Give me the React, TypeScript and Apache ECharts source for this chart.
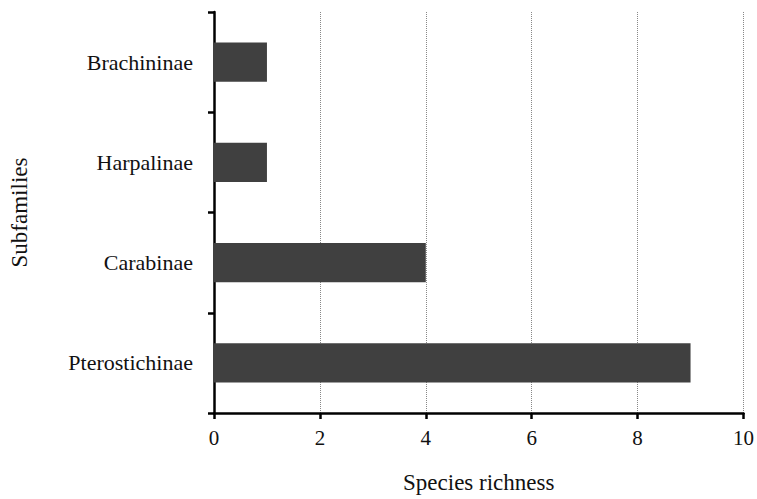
import React, { useEffect, useRef } from "react";
import * as echarts from "echarts";

const categories = ["Pterostichinae", "Carabinae", "Harpalinae", "Brachininae"];
const speciesRichness = [9, 4, 1, 1];
const xTicks = [0, 2, 4, 6, 8, 10];

export default function App() {
  const ref = useRef<HTMLDivElement>(null);
  useEffect(() => {
    if (!ref.current) return;
    const chart = echarts.init(ref.current, null, { renderer: "svg" });
    const font = "'Liberation Serif', 'Times New Roman', serif";
    chart.setOption({
      animation: false,
      backgroundColor: "#ffffff",
      grid: { left: 213, right: 11, top: 12, bottom: 79, containLabel: false },
      xAxis: {
        type: "value",
        min: xTicks[0],
        max: xTicks[xTicks.length - 1],
        interval: 2,
        name: "Species richness",
        nameLocation: "middle",
        nameGap: 58,
        nameTextStyle: { fontFamily: font, fontSize: 23, color: "#111" },
        axisLine: { show: true, lineStyle: { color: "#000", width: 2.5 } },
        axisTick: { show: true, length: 6, lineStyle: { color: "#000", width: 2.5 } },
        axisLabel: { fontFamily: font, fontSize: 21, color: "#111", margin: 14 },
        splitLine: { show: true, lineStyle: { color: "#888", type: [1, 1], width: 1 } },
      },
      yAxis: {
        type: "category",
        data: categories,
        name: "Subfamilies",
        nameLocation: "middle",
        nameGap: 183,
        nameRotate: 90,
        nameTextStyle: { fontFamily: font, fontSize: 23, color: "#111" },
        axisLine: { show: true, lineStyle: { color: "#000", width: 2.5 } },
        axisTick: { show: true, length: 6, lineStyle: { color: "#000", width: 2.5 } },
        axisLabel: { fontFamily: font, fontSize: 22, color: "#111", margin: 21 },
        splitLine: { show: false },
      },
      series: [
        {
          type: "bar",
          data: speciesRichness,
          barWidth: "39%",
          itemStyle: { color: "#404040" },
        },
      ],
    });
    return () => chart.dispose();
  }, []);
  return <div ref={ref} style={{ width: 757, height: 499, position: "absolute", left: 0, top: 0 }} />;
}
